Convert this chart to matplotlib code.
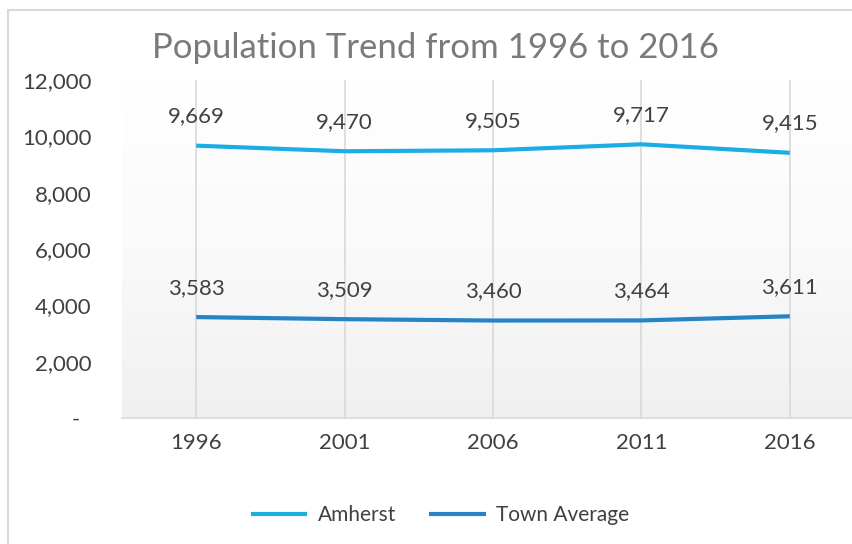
import numpy as np
import matplotlib.pyplot as plt
from matplotlib.colors import LinearSegmentedColormap
from matplotlib.patches import Rectangle
from matplotlib.ticker import FuncFormatter

years = ["1996", "2001", "2006", "2011", "2016"]
amherst = [9669, 9470, 9505, 9717, 9415]
town_avg = [3583, 3509, 3460, 3464, 3611]

plt.rcParams["font.family"] = ["Lato", "DejaVu Sans"]

fig = plt.figure(figsize=(8.52, 5.44), dpi=100)
# outer chart border (right and bottom edges fall outside the image)
fig.patches.append(Rectangle((8 / 852, -0.05), 1.1, 1.05 - 10 / 544,
                             transform=fig.transFigure, fill=False,
                             edgecolor="#d9d9d9", linewidth=1.5))

ax = fig.add_axes([122 / 852, 1 - 418 / 544, 742 / 852, 338 / 544])
x = np.arange(len(years))

# gradient background: white at top, light grey at bottom
grad = np.linspace(0, 1, 256).reshape(-1, 1)
cmap = LinearSegmentedColormap.from_list("bg", ["#ffffff", "#fafafa", "#f0f0f0"])
ax.imshow(grad, extent=[0, 1, 0, 1], transform=ax.transAxes, aspect="auto",
          cmap=cmap, zorder=0)

for xi in x:
    ax.axvline(xi, color="#d9d9d9", linewidth=1.2, zorder=1)

ax.plot(x, amherst, color="#1cade4", linewidth=3, solid_capstyle="butt",
        label="Amherst", zorder=3)
ax.plot(x, town_avg, color="#2683c6", linewidth=3, solid_capstyle="butt",
        label="Town Average", zorder=3)

for xi, v in zip(x, amherst):
    ax.annotate(f"{v:,}", (xi, v), xytext=(0, 14), textcoords="offset points",
                ha="center", va="bottom", fontsize=16, color="#404040")
for xi, v in zip(x, town_avg):
    ax.annotate(f"{v:,}", (xi, v), xytext=(0, 14), textcoords="offset points",
                ha="center", va="bottom", fontsize=16, color="#404040")

ax.set_xlim(-0.5, 4.5)
ax.set_ylim(0, 12000)
ax.set_xticks(x)
ax.set_xticklabels(years)
ax.set_yticks(range(0, 12001, 2000))
# accounting style: zero shown as a dash, set in from the right edge
ax.yaxis.set_major_formatter(FuncFormatter(lambda v, p: "-  " if v == 0 else f"{int(v):,}"))
ax.tick_params(axis="both", length=0, labelsize=16, labelcolor="#404040")
ax.tick_params(axis="x", pad=11)
ax.tick_params(axis="y", pad=22)

for s in ["top", "right", "left"]:
    ax.spines[s].set_visible(False)
ax.spines["bottom"].set_color("#d9d9d9")
ax.spines["bottom"].set_linewidth(1.2)

fig.text(435 / 852, 1 - 48 / 544, "Population Trend from 1996 to 2016",
         ha="center", va="center", fontsize=25, color="#7a7a7a")

fig.legend(loc="center", bbox_to_anchor=(440 / 852, 1 - 515 / 544), ncol=2,
           frameon=False, fontsize=15, labelcolor="#404040",
           handlelength=2.7, columnspacing=1.6, handletextpad=0.5)

fig.savefig("out.png", dpi=100)
